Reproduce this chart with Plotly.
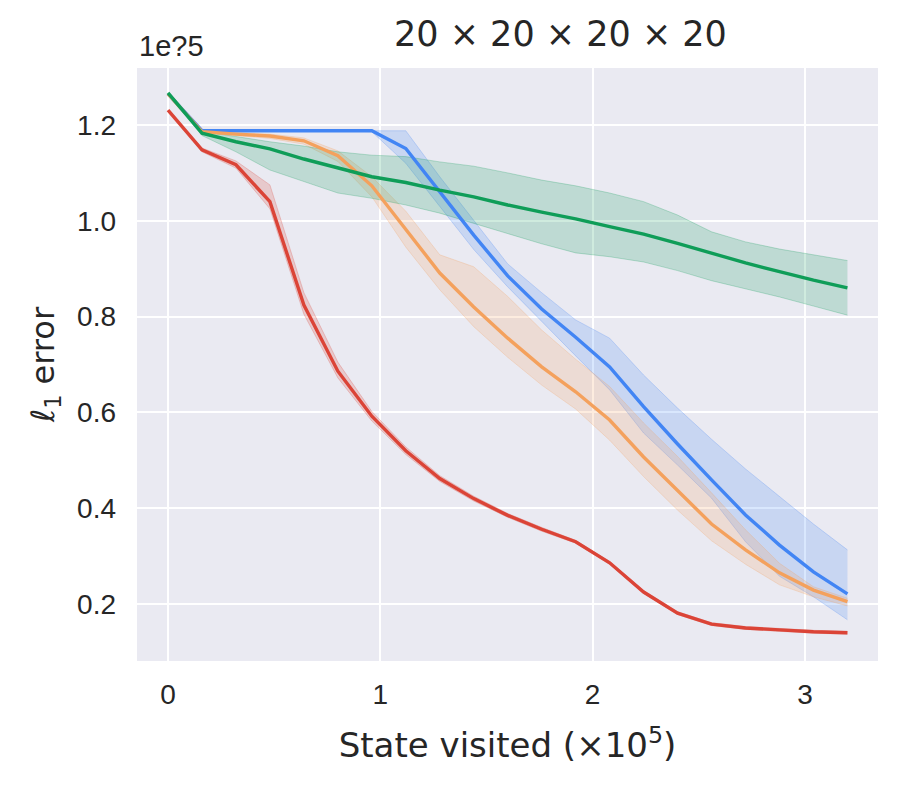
import plotly.graph_objects as go

# x: states visited (x1e5), 21 checkpoints
steps = [0.0, 0.16, 0.32, 0.48, 0.64, 0.8, 0.96, 1.12, 1.28, 1.44, 1.6,
         1.76, 1.92, 2.08, 2.24, 2.4, 2.56, 2.72, 2.88, 3.04, 3.2]

blue_mean = [1.265, 1.188, 1.188, 1.188, 1.188, 1.188, 1.188, 1.151, 1.060, 0.970, 0.885,
             0.816, 0.757, 0.695, 0.612, 0.534, 0.459, 0.386, 0.323, 0.267, 0.221]
blue_lo = [1.265, 1.188, 1.188, 1.188, 1.188, 1.188, 1.186, 1.120, 1.030, 0.940, 0.862,
           0.789, 0.718, 0.647, 0.557, 0.490, 0.421, 0.330, 0.258, 0.215, 0.167]
blue_hi = [1.265, 1.188, 1.188, 1.188, 1.188, 1.188, 1.189, 1.188, 1.092, 1.000, 0.910,
           0.850, 0.793, 0.755, 0.678, 0.609, 0.544, 0.482, 0.424, 0.367, 0.313]

orange_mean = [1.265, 1.186, 1.181, 1.177, 1.167, 1.136, 1.073, 0.981, 0.891, 0.820, 0.755,
               0.695, 0.643, 0.584, 0.507, 0.437, 0.367, 0.313, 0.265, 0.229, 0.205]
orange_lo = [1.265, 1.184, 1.178, 1.172, 1.160, 1.124, 1.050, 0.945, 0.856, 0.779, 0.715,
             0.657, 0.607, 0.542, 0.466, 0.396, 0.332, 0.283, 0.240, 0.215, 0.196]
orange_hi = [1.265, 1.188, 1.184, 1.181, 1.173, 1.146, 1.092, 1.020, 0.929, 0.904, 0.842,
             0.772, 0.711, 0.654, 0.578, 0.508, 0.432, 0.355, 0.285, 0.236, 0.212]

green_mean = [1.267, 1.183, 1.165, 1.150, 1.129, 1.110, 1.092, 1.080, 1.064, 1.050, 1.033,
              1.018, 1.004, 0.988, 0.972, 0.953, 0.932, 0.912, 0.894, 0.876, 0.860]
green_lo = [1.267, 1.178, 1.144, 1.106, 1.082, 1.058, 1.047, 1.033, 1.016, 0.995, 0.974,
            0.952, 0.933, 0.925, 0.914, 0.896, 0.875, 0.858, 0.841, 0.822, 0.803]
green_hi = [1.267, 1.186, 1.176, 1.165, 1.156, 1.144, 1.137, 1.134, 1.123, 1.114, 1.100,
            1.085, 1.073, 1.058, 1.040, 1.012, 0.977, 0.956, 0.941, 0.929, 0.917]

red_mean = [1.231, 1.148, 1.117, 1.040, 0.824, 0.686, 0.592, 0.520, 0.462, 0.420, 0.385,
            0.356, 0.330, 0.286, 0.225, 0.181, 0.158, 0.150, 0.146, 0.142, 0.140]
red_lo = [1.231, 1.144, 1.110, 1.025, 0.805, 0.672, 0.582, 0.512, 0.456, 0.415, 0.381,
          0.352, 0.327, 0.283, 0.222, 0.178, 0.155, 0.147, 0.143, 0.139, 0.137]
red_hi = [1.231, 1.152, 1.125, 1.075, 0.850, 0.705, 0.602, 0.528, 0.468, 0.425, 0.389,
          0.360, 0.333, 0.289, 0.228, 0.184, 0.161, 0.153, 0.149, 0.145, 0.143]

series = [
    ("blue", (66, 133, 244), blue_mean, blue_lo, blue_hi),
    ("orange", (244, 161, 93), orange_mean, orange_lo, orange_hi),
    ("green", (15, 157, 88), green_mean, green_lo, green_hi),
    ("red", (219, 68, 55), red_mean, red_lo, red_hi),
]

fig = go.Figure()

# shaded bands first
for name, (r, g, b), mean, lo, hi in series:
    band = f"rgba({r},{g},{b},0.2)"
    edge = f"rgba({r},{g},{b},0.25)"
    fig.add_trace(go.Scatter(x=steps, y=lo, mode="lines", line=dict(color=edge, width=1),
                             showlegend=False, hoverinfo="skip"))
    fig.add_trace(go.Scatter(x=steps, y=hi, mode="lines", line=dict(color=edge, width=1),
                             fill="tonexty", fillcolor=band, showlegend=False, hoverinfo="skip"))

# mean curves on top
for name, (r, g, b), mean, lo, hi in series:
    fig.add_trace(go.Scatter(x=steps, y=mean, mode="lines", name=name,
                             line=dict(color=f"rgb({r},{g},{b})", width=3.4),
                             showlegend=False))

font = "DejaVu Sans"
tick_font = dict(family="Liberation Sans", size=28, color="#262626")
fig.update_layout(
    width=901, height=789,
    margin=dict(l=129, r=31, t=60, b=136),
    paper_bgcolor="white",
    plot_bgcolor="#EAEAF2",
    font=dict(family=font, color="#262626", size=18),
    xaxis=dict(range=[-0.146, 3.344], tickvals=[0, 1, 2, 3], ticktext=["0", "1", "2", "3"],
               showgrid=True, gridcolor="white", gridwidth=1.8, zeroline=False,
               ticks="", ticklabelstandoff=14, tickfont=tick_font,
               title=dict(text="State visited (×10<sup>5</sup>)", font=dict(size=34), standoff=24)),
    yaxis=dict(range=[0.081, 1.319], tickvals=[0.2, 0.4, 0.6, 0.8, 1.0, 1.2],
               ticktext=["0.2", "0.4", "0.6", "0.8", "1.0", "1.2"],
               showgrid=True, gridcolor="white", gridwidth=1.8, zeroline=False,
               ticks="", ticklabelstandoff=20, tickfont=tick_font,
               title=dict(text="ℓ<sub>1</sub> error", font=dict(size=32), standoff=12)),
    annotations=[
        dict(text="20 × 20 × 20 × 20", xref="paper", yref="paper", x=0.572, y=1.0,
             yshift=34, xanchor="center", yanchor="middle", showarrow=False,
             font=dict(size=35)),
        dict(text="1e?5", xref="paper", yref="paper", x=0.0, y=1.0, yshift=22,
             xanchor="left", yanchor="middle", showarrow=False,
             font=dict(family="Liberation Sans", size=29)),
    ],
)

fig.write_html("out.html")
